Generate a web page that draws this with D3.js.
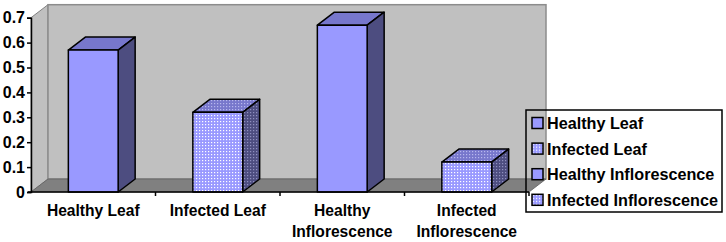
<!DOCTYPE html>
<html>
<head>
<meta charset="utf-8">
<script src="https://cdn.jsdelivr.net/npm/d3@7"></script>
<style>
  body { margin: 0; background: #fff; }
  text { font-family: "Liberation Sans", Arial, sans-serif; font-weight: bold; }
</style>
</head>
<body>
<svg width="726" height="242"></svg>
<script>
// data
let categories = ['Healthy Leaf', 'Infected Leaf', 'Healthy Inflorescence', 'Infected Inflorescence']
let labelLines = [['Healthy Leaf'], ['Infected Leaf'], ['Healthy', 'Inflorescence'], ['Infected', 'Inflorescence']]
let values = [0.57, 0.32, 0.67, 0.12]
let patterned = [false, true, false, true]
let yTicks = [0, 0.1, 0.2, 0.3, 0.4, 0.5, 0.6, 0.7]

let svg = d3.select('svg')

// 3d depth offset
let dx = 17, dy = -13

let x = d3.scaleBand()
    .domain(categories)
    .range([31, 529])
    .paddingInner(0.6)
    .paddingOuter(0.3)

let xTicks = d3.scaleBand().domain(categories).range([31, 529])

let y = d3.scaleLinear()
    .domain([0, 0.7])
    .range([192, 17.7])

// patterns for the "infected" bars
let defs = svg.append('defs')
function dots(id, base, dot) {
    let p = defs.append('pattern').attr('id', id)
        .attr('width', 3).attr('height', 3)
        .attr('patternUnits', 'userSpaceOnUse')
    p.append('rect').attr('width', 3).attr('height', 3).attr('fill', base)
    p.append('rect').attr('x', 1).attr('y', 1).attr('width', 1.2).attr('height', 1.2).attr('fill', dot)
}
dots('dotFront', '#9999ff', '#ffffff')
dots('dotTop', '#7777cc', '#b8b8ee')
dots('dotSide', '#4d4d80', '#9090c0')

let pLeft = 31, pRight = 529, pBottom = y(0), pTop = y(0.7)

// walls
let walls = svg.append('g')
walls.append('polygon')
    .attr('points', [[pLeft, pTop], [pLeft + dx, pTop + dy], [pLeft + dx, pBottom + dy], [pLeft, pBottom]].join(' '))
    .attr('fill', '#c0c0c0').attr('stroke', '#808080')
walls.append('rect')
    .attr('x', pLeft + dx).attr('y', pTop + dy)
    .attr('width', pRight - pLeft).attr('height', pBottom - pTop)
    .attr('fill', '#c0c0c0').attr('stroke', '#8c8c8c').attr('stroke-width', 1.5)
walls.append('polygon')
    .attr('points', [[pLeft, pBottom], [pLeft + dx, pBottom + dy], [pRight + dx, pBottom + dy], [pRight, pBottom]].join(' '))
    .attr('fill', '#808080').attr('stroke', '#606060').attr('stroke-width', 0.8)

// bars
let bars = svg.append('g').selectAll('g')
    .data(values)
    .join('g')
    .attr('stroke', '#000')
    .attr('stroke-width', 1.5)
    .attr('stroke-linejoin', 'round')

bars.each(function(v, i) {
    let g = d3.select(this)
    let b0 = x(categories[i]), b1 = b0 + x.bandwidth()
    let yt = y(v), yb = y(0)
    let pat = patterned[i]
    g.append('polygon')
        .attr('points', [[b0, yt], [b0 + dx, yt + dy], [b1 + dx, yt + dy], [b1, yt]].join(' '))
        .attr('fill', pat ? 'url(#dotTop)' : '#7777cc')
    g.append('polygon')
        .attr('points', [[b1, yt], [b1 + dx, yt + dy], [b1 + dx, yb + dy], [b1, yb]].join(' '))
        .attr('fill', pat ? 'url(#dotSide)' : '#4d4d80')
    g.append('rect')
        .attr('x', b0).attr('y', yt)
        .attr('width', b1 - b0).attr('height', yb - yt)
        .attr('fill', pat ? 'url(#dotFront)' : '#9999ff')
})

// y axis
let yAxis = svg.append('g')
    .attr('transform', `translate(${pLeft},0)`)
    .call(d3.axisLeft(y).tickValues(yTicks).tickSize(4).tickPadding(2)
        .tickFormat(d => d === 0 ? '0' : d3.format('.1f')(d)))
yAxis.select('.domain').attr('stroke', '#000').attr('stroke-width', 1.5)
yAxis.selectAll('line').attr('stroke', '#000').attr('stroke-width', 1.5)
yAxis.selectAll('text').attr('font-size', 16).attr('fill', '#000')
    .attr('font-family', '"Liberation Sans", Arial, sans-serif').attr('font-weight', 'bold')

// x axis line + category ticks
let xAxis = svg.append('g')
xAxis.append('line')
    .attr('x1', pLeft - 3).attr('x2', pRight).attr('y1', pBottom).attr('y2', pBottom)
    .attr('stroke', '#000').attr('stroke-width', 1.5)
xAxis.selectAll('.tk')
    .data(categories)
    .join('line')
    .attr('class', 'tk')
    .attr('x1', d => xTicks(d) + xTicks.bandwidth()).attr('x2', d => xTicks(d) + xTicks.bandwidth())
    .attr('y1', pBottom).attr('y2', pBottom + 4)
    .attr('stroke', '#000').attr('stroke-width', 1.5)

xAxis.selectAll('.lbl')
    .data(categories)
    .join('text')
    .attr('class', 'lbl')
    .attr('text-anchor', 'middle')
    .attr('font-size', 15.6)
    .attr('x', d => xTicks(d) + xTicks.bandwidth() / 2)
    .attr('y', 216)
    .each(function(d, i) {
        let t = d3.select(this)
        labelLines[i].forEach((line, k) => {
            t.append('tspan')
                .attr('x', xTicks(d) + xTicks.bandwidth() / 2)
                .attr('dy', k === 0 ? 0 : 21)
                .text(line)
        })
    })

// legend
let legend = svg.append('g')
legend.append('rect')
    .attr('x', 526).attr('y', 110).attr('width', 196).attr('height', 102)
    .attr('fill', 'none').attr('stroke', '#000').attr('stroke-width', 1.5)
let items = legend.selectAll('.item')
    .data(categories)
    .join('g')
    .attr('class', 'item')
    .attr('transform', (d, i) => `translate(532,${123 + i * 25.6})`)
items.append('rect')
    .attr('x', 0).attr('y', -5.5).attr('width', 11).attr('height', 11)
    .attr('fill', (d, i) => patterned[i] ? 'url(#dotFront)' : '#9999ff')
    .attr('stroke', '#000').attr('stroke-width', 1.5)
items.append('text')
    .attr('x', 15).attr('y', 6)
    .attr('font-size', 16.2)
    .text(d => d)
</script>
</body>
</html>
